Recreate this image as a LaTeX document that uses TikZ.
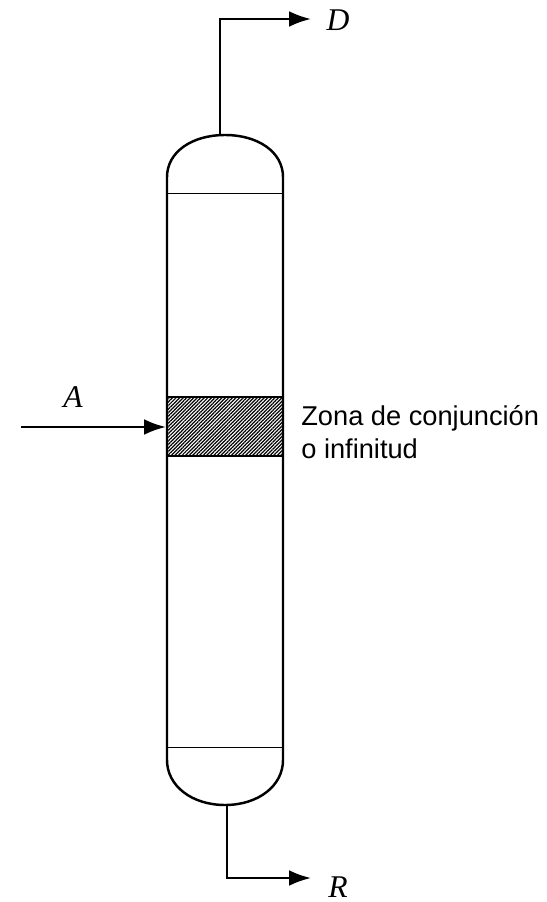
\documentclass[tikz,border=0pt]{standalone}
\usepackage{fontspec}
\setmainfont{Liberation Sans}
\newfontfamily\labelfont{Liberation Serif}
\usetikzlibrary{patterns.meta, arrows.meta, calc}

\begin{document}
\begin{tikzpicture}[x=0.02cm, y=-0.02cm,
    stream/.style={line width=1.4pt, -{Latex[length=12.5pt, width=9pt]}},
    streamlabel/.style={font=\labelfont\itshape\fontsize{18}{20}\selectfont, inner sep=0pt}]
  \useasboundingbox (0,0) rectangle (547,902);
  % hatched zone
  \fill[pattern={Lines[angle=45, distance=1.42pt, line width=0.7pt]}] (167,397) rectangle (283,456);
  \draw[line width=1.5pt] (167,397) rectangle (283,456);
  % shell
  \draw[line width=1.4pt] (167,177) .. controls (167,152) and (192,135) .. (225,135)
    .. controls (258,135) and (283,152) .. (283,177) -- (283,760)
    .. controls (283,786) and (258,805) .. (225,805)
    .. controls (192,805) and (167,786) .. (167,760) -- cycle;
  \draw[line width=0.5pt] (167,193) -- (283,193);
  \draw[line width=0.5pt] (167,747) -- (283,747);
  % streams
  \coordinate (top) at (220,135);
  \coordinate (bot) at (227,805);
  \coordinate (feed) at (21,427);
  \coordinate (inlet) at (166,427);
  \node[streamlabel] (D) at (338,20) {D};
  \node[streamlabel] (R) at (338,887) {R};
  \node[streamlabel] (A) at (73,397) {A};
  \coordinate (Dend) at (311,19);
  \coordinate (Rend) at (311,878);
  \draw[stream] (top) |- (Dend);
  \draw[stream] (bot) |- (Rend);
  \draw[stream] (feed) -- (inlet);
  \node[anchor=west, inner sep=0pt, align=left, font=\fontsize{15.5}{18.7}\selectfont] (zone) at (301,432) {Zona de conjunción\\o infinitud};
\end{tikzpicture}
\end{document}
